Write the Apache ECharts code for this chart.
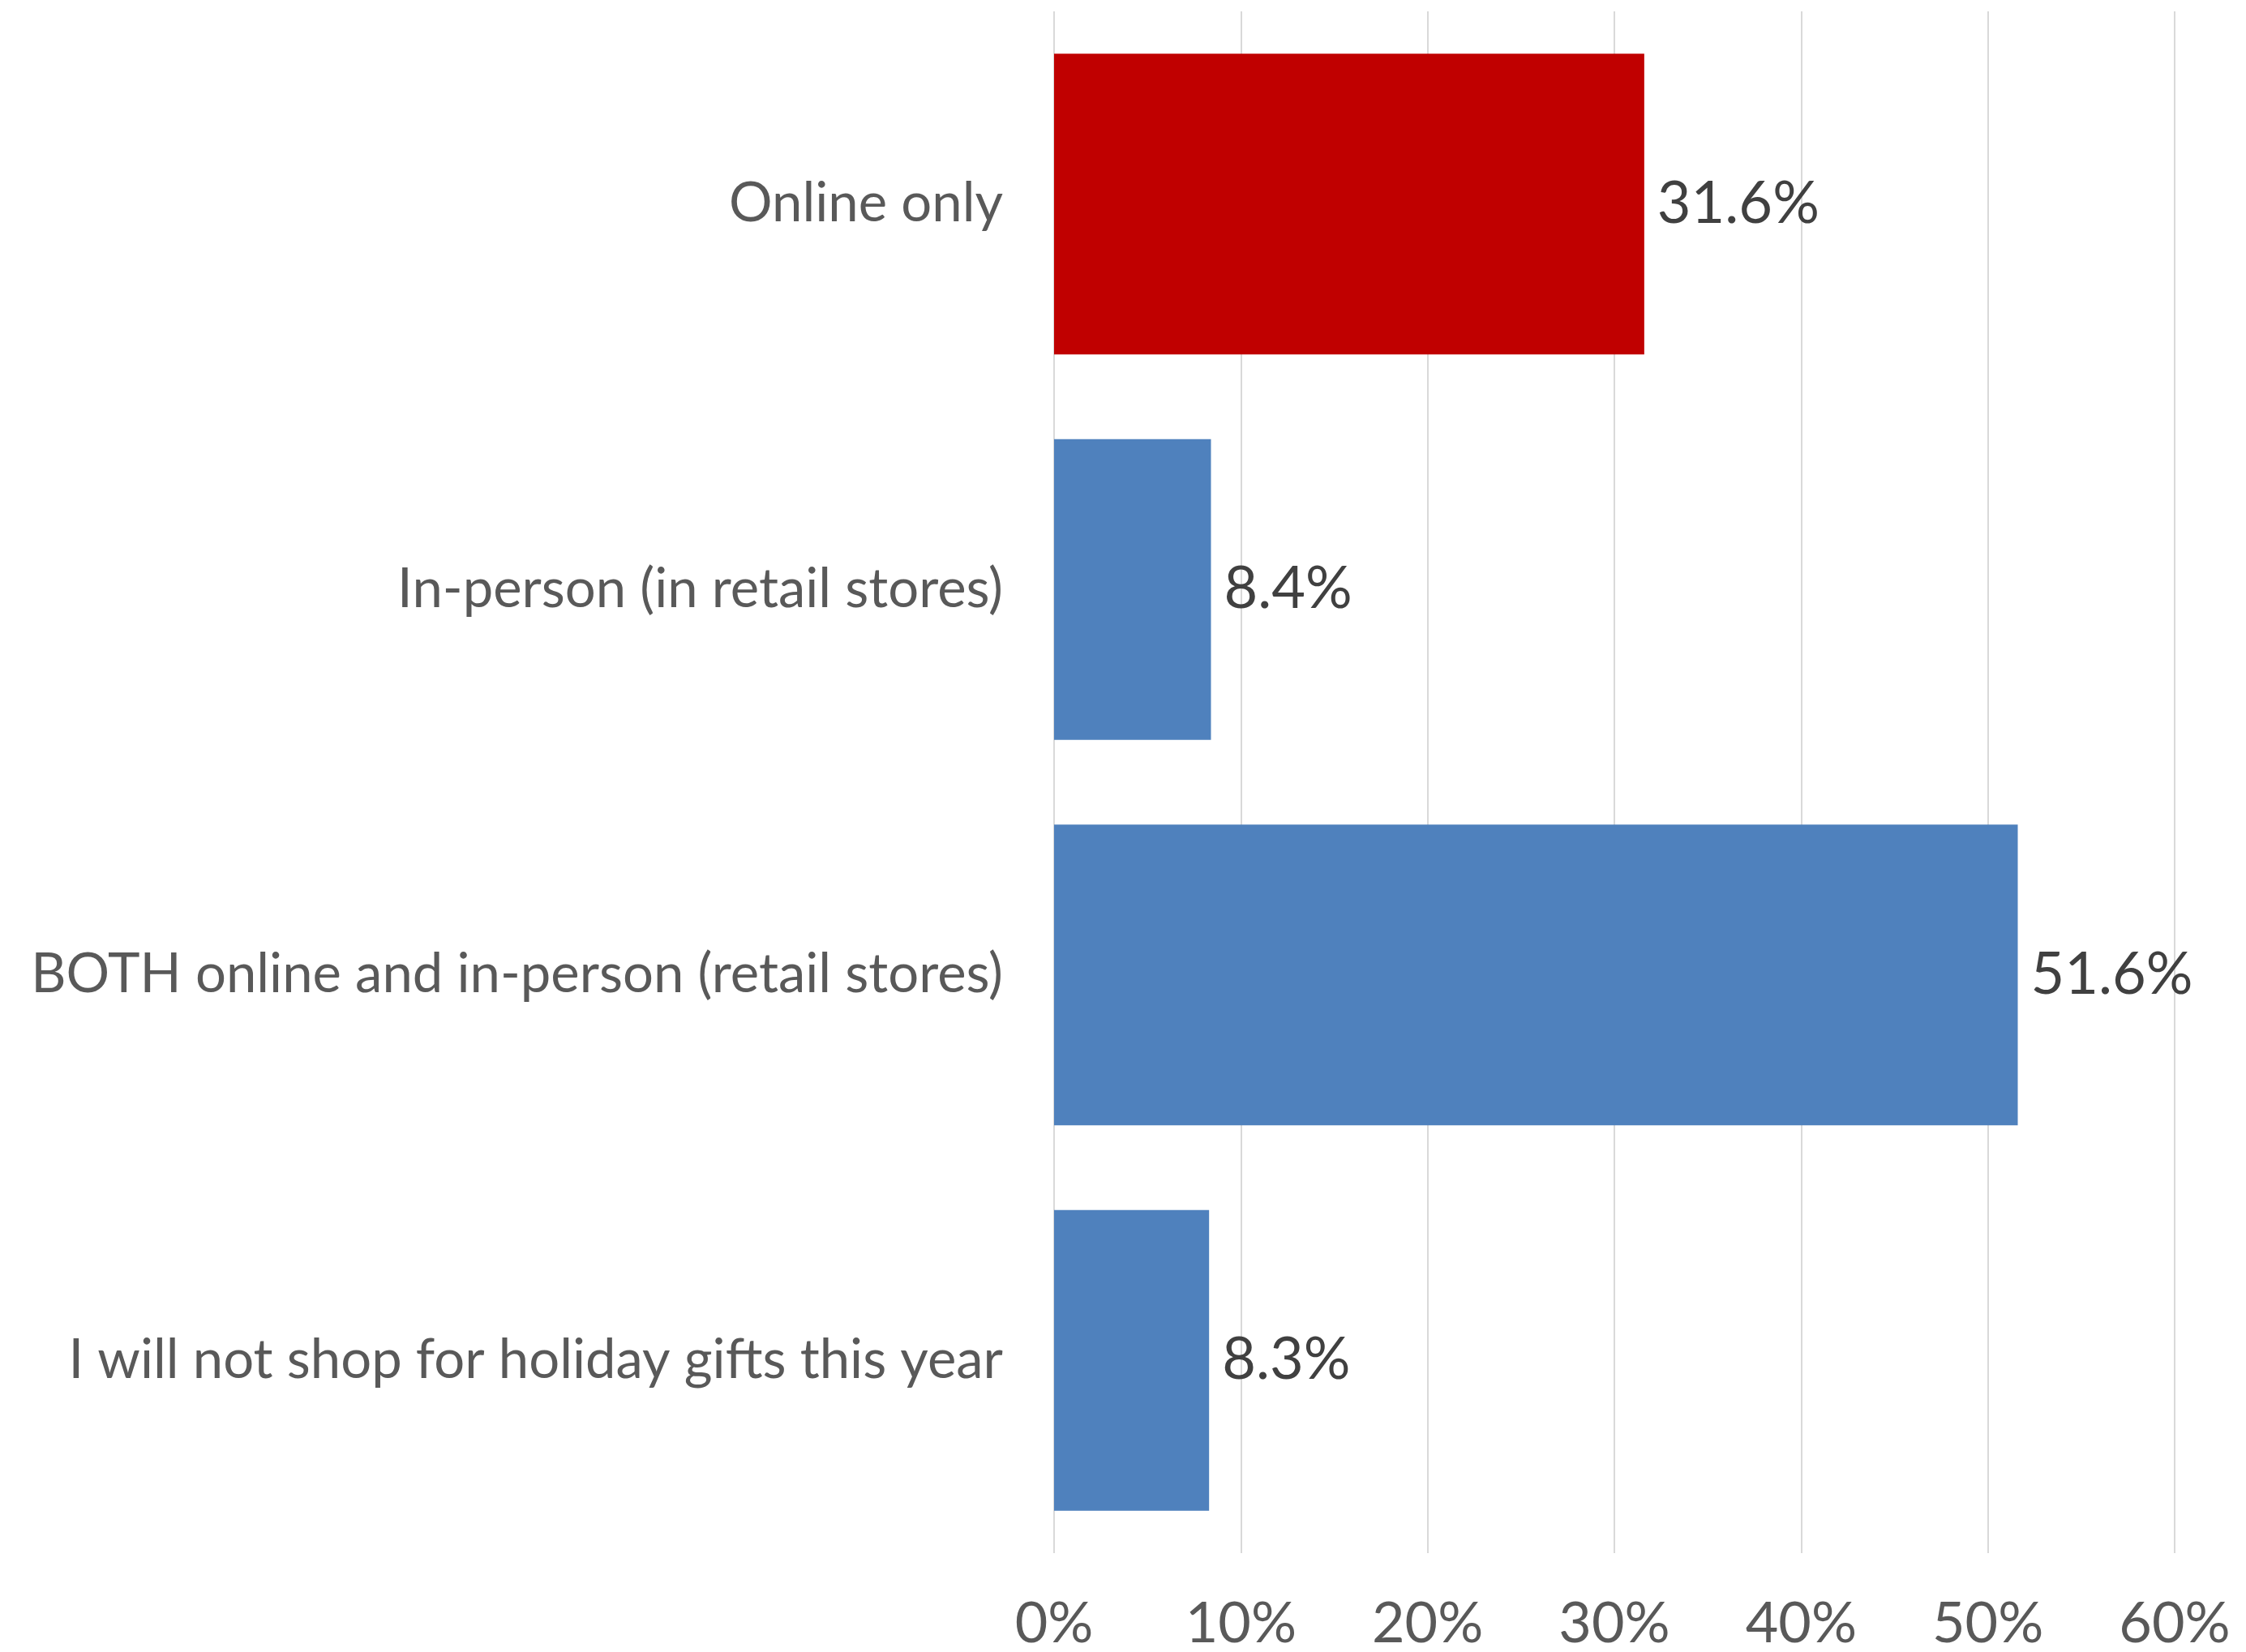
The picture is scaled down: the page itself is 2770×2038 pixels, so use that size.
<!DOCTYPE html>
<html>
<head>
<meta charset="utf-8">
<style>
  html, body { margin: 0; padding: 0; background: #ffffff; }
  #chart { width: 2770px; height: 2038px; }
</style>
<script src="https://cdn.jsdelivr.net/npm/echarts@6/dist/echarts.min.js"></script>
</head>
<body>
<div id="chart"></div>
<script>
// Holiday shopping plans: share of respondents per answer (percent)
const categories = [
  'Online only',
  'In-person (in retail stores)',
  'BOTH online and in-person (retail stores)',
  'I will not shop for holiday gifts this year'
];
const shares = [31.6, 8.4, 51.6, 8.3];
const barColors = ['#C00000', '#4F81BD', '#4F81BD', '#4F81BD'];
const axisTicks = [0, 10, 20, 30, 40, 50, 60];

const FONT = 'Lato';

const chart = echarts.init(document.getElementById('chart'), null, { renderer: 'canvas' });

chart.setOption({
  backgroundColor: '#ffffff',
  animation: false,
  grid: { left: 1300, right: 88, top: 14, bottom: 120, containLabel: false },
  xAxis: {
    type: 'value',
    min: axisTicks[0],
    max: axisTicks[axisTicks.length - 1],
    interval: axisTicks[1] - axisTicks[0],
    axisLine: { show: false },
    axisTick: { show: false },
    splitLine: { show: true, lineStyle: { color: '#D9D9D9', width: 2 } },
    axisLabel: {
      formatter: v => v + '%',
      color: '#595959',
      fontFamily: FONT,
      fontSize: 70,
      margin: 52
    }
  },
  yAxis: {
    type: 'category',
    inverse: true,
    data: categories,
    axisLine: { show: false },
    axisTick: { show: false },
    axisLabel: {
      color: '#595959',
      fontFamily: FONT,
      fontSize: 67,
      margin: 63
    }
  },
  series: [{
    type: 'bar',
    barCategoryGap: '22%',
    data: shares.map((v, i) => ({ value: v, itemStyle: { color: barColors[i] } })),
    label: {
      show: true,
      position: 'right',
      distance: 16,
      formatter: p => p.value.toFixed(1) + '%',
      color: '#404040',
      fontFamily: FONT,
      fontSize: 72
    }
  }]
});
</script>
</body>
</html>
